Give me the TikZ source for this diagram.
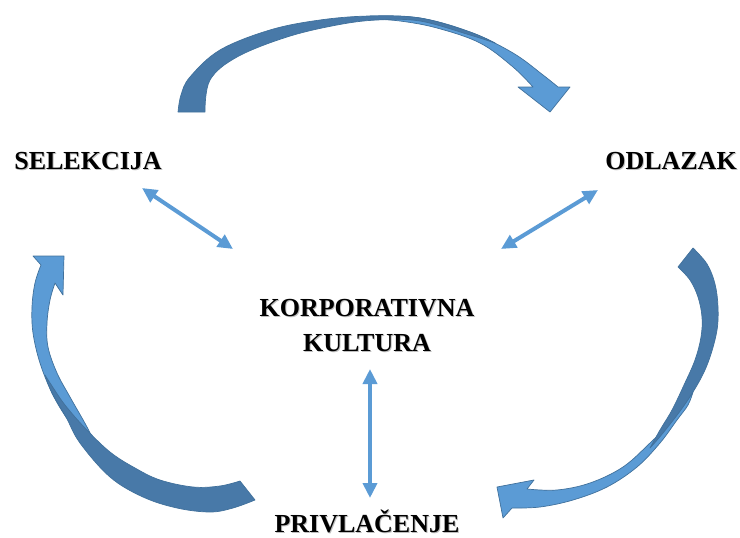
\documentclass[tikz,border=0pt]{standalone}
\usepackage{fontspec}
\setmainfont{Liberation Serif}
\usetikzlibrary{arrows.meta}
\definecolor{bandlight}{RGB}{91,155,213}
\definecolor{banddark}{RGB}{72,121,168}
\definecolor{bandedge}{RGB}{65,113,156}
% bold caption with a soft grey drop shadow
\newcommand{\shadowed}[1]{\makebox[0pt][l]{\hspace{1pt}\raisebox{-1pt}{\color{black!25}#1}}#1}
\begin{document}
\begin{tikzpicture}[x=1pt,y=-1pt,
  caption/.style={font=\fontsize{26}{35}\selectfont\bfseries, align=center, inner sep=0pt},
  front/.style={fill=bandlight, draw=bandedge, line width=0.7pt, line join=round},
  back/.style={fill=banddark, draw=bandedge, line width=0.7pt, line join=round},
  link/.style={draw=bandlight, line width=4pt,
    {Triangle[length=15pt,width=14pt]}-{Triangle[length=15pt,width=14pt]}},
  every plot/.style={smooth, tension=0.6}]
\useasboundingbox (0,0) rectangle (740,538);

% captions
\node[caption, anchor=base] (sel) at (88,169) {\shadowed{SELEKCIJA}};
\node[caption, anchor=base] (odl) at (671,169) {\shadowed{ODLAZAK}};
\node[caption] (kor) at (367,326) {\shadowed{KORPORATIVNA}\\\shadowed{KULTURA}};
\node[caption, anchor=base] (pri) at (367,532) {\shadowed{PRIVLAČENJE}};

% two-way links to the centre
\coordinate (selEnd) at (142,188);
\coordinate (korLeft) at (233,249);
\coordinate (odlEnd) at (598,190);
\coordinate (korRight) at (501,249);
\coordinate (korBottom) at (370,369);
\coordinate (priEnd) at (370,498);
\draw[link] (selEnd) -- (korLeft);
\draw[link] (odlEnd) -- (korRight);
\draw[link] (korBottom) -- (priEnd);

% top curved arrow: SELEKCIJA -> ODLAZAK
\path[front] plot coordinates {(370,16) (420,18) (470,32) (513,53) (543,75) (558,87)}
  -- (570,87) -- (550,112) -- (518,87) -- (533,87)
  -- plot coordinates {(533,87) (513,67) (480,43) (437,28) (400,21) (370,19)} -- cycle;
\path[back] plot coordinates {(178,112) (181,95) (190,77) (220,50) (270,30) (320,20) (370,16) (420,18) (470,32) (495,43)}
  -- plot coordinates {(495,43) (470,35) (420,21) (377,20) (337,25) (287,37) (237,57) (210,80) (205,112)} -- cycle;

% right curved arrow: ODLAZAK -> PRIVLACENJE
\path[front] (497,487) -- (534,480) -- (527,489)
  -- plot coordinates {(527,489) (557,490) (590,483) (623,467) (650,443) (670,423) (684,405) (693,392)}
  -- plot coordinates {(693,392) (688,405) (677,420) (660,443) (637,467) (607,487) (573,500) (540,507) (512,508)}
  -- (503,518) -- cycle;
\path[back] (678,267) -- (693,248)
  -- plot coordinates {(693,248) (707,264) (715,284) (718,307) (717,330) (710,357) (700,380) (683,407) (663,433) (650,448)}
  -- plot coordinates {(650,448) (660,430) (672,410) (684,385) (695,360) (701,337) (702,317) (698,297) (690,280) (678,267)} -- cycle;

% left curved arrow: PRIVLACENJE -> SELEKCIJA
\path[front] plot coordinates {(41,265) (35,283) (32,307) (33,333) (40,363) (52,393) (66,417) (82,437) (97,448)}
  -- plot coordinates {(97,448) (87,427) (70,397) (57,373) (48,347) (47,323) (50,300) (55,283)}
  -- (63,295) -- (64,256) -- (33,256) -- cycle;
\path[back] (240,481) -- (255,500)
  -- plot coordinates {(255,500) (233,508) (210,512) (177,508) (143,497) (110,477) (80,443) (66,417) (52,393) (45,375)}
  -- plot coordinates {(45,375) (52,386) (65,405) (85,428) (110,452) (135,468) (160,480) (193,487) (220,486) (240,481)} -- cycle;
\end{tikzpicture}
\end{document}
